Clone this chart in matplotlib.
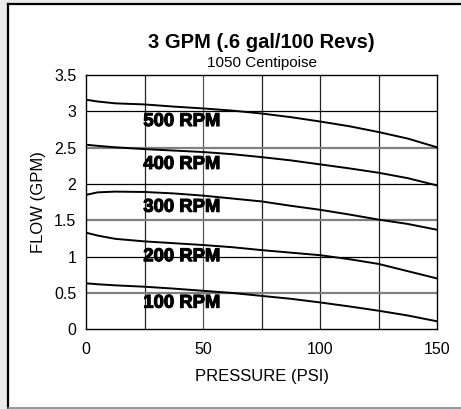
import matplotlib
matplotlib.use("Agg")
import matplotlib.pyplot as plt
import matplotlib.patheffects as pe
from matplotlib.lines import Line2D
from matplotlib.patches import Rectangle

plt.rcParams['font.family'] = ['Liberation Sans', 'DejaVu Sans']

# readings (flow in GPM vs pressure in PSI)
pressure = [0, 5, 12.5, 25, 37.5, 50, 62.5, 75, 87.5, 100, 112.5, 125, 137.5, 150]
rpm_500 = [3.16, 3.135, 3.11, 3.095, 3.065, 3.04, 3.01, 2.97, 2.92, 2.86, 2.795, 2.715, 2.625, 2.505]
rpm_400 = [2.54, 2.525, 2.505, 2.48, 2.46, 2.44, 2.41, 2.37, 2.325, 2.27, 2.215, 2.155, 2.08, 1.98]
rpm_300 = [1.85, 1.885, 1.895, 1.89, 1.87, 1.84, 1.80, 1.76, 1.70, 1.645, 1.58, 1.51, 1.45, 1.37]
rpm_200 = [1.33, 1.29, 1.245, 1.21, 1.185, 1.16, 1.13, 1.09, 1.055, 1.02, 0.965, 0.90, 0.80, 0.70]
rpm_100 = [0.633, 0.62, 0.605, 0.586, 0.56, 0.53, 0.50, 0.46, 0.42, 0.37, 0.315, 0.256, 0.19, 0.11]

series = [rpm_500, rpm_400, rpm_300, rpm_200, rpm_100]
labels = ["500 RPM", "400 RPM", "300 RPM", "200 RPM", "100 RPM"]
label_y = [2.86, 2.27, 1.68, 1.00, 0.36]
label_x = 24.5

x_ticks = [0, 50, 100, 150]
y_ticks = [0, 0.5, 1, 1.5, 2, 2.5, 3, 3.5]
y_tick_labels = ["0", "0.5", "1", "1.5", "2", "2.5", "3", "3.5"]

W, H = 461, 409
fig = plt.figure(figsize=(W / 100, H / 100), dpi=100)
fig.patch.set_facecolor("#ececec")

# white card with black top/left edge
fig.add_artist(Rectangle((8 / W, 1 / H), 1, 404 / H, transform=fig.transFigure,
                         facecolor="white", edgecolor="none", zorder=-5))
fig.add_artist(Line2D([8 / W, 8 / W], [1 / H, 405 / H], transform=fig.transFigure,
                      color="black", lw=1.6, zorder=-4))
fig.add_artist(Line2D([8 / W, 1], [405 / H, 405 / H], transform=fig.transFigure,
                      color="black", lw=1.6, zorder=-4))
fig.add_artist(Line2D([8 / W, 1], [0.8 / H, 0.8 / H], transform=fig.transFigure,
                      color="#888888", lw=1.2, zorder=-4))

ax = fig.add_axes([86 / W, 1 - 329.3 / H, 351 / W, 254.3 / H])
ax.set_facecolor("white")
ax.set_xlim(0, 150)
ax.set_ylim(0, 3.5)

# grid
for gx in [25, 50, 75, 100, 125]:
    ax.axvline(gx, color="#555555" if gx == 50 else "#222222", lw=0.9, zorder=1)
for gy in [0.5, 1, 1.5, 2, 2.5, 3]:
    if gy in (1, 2, 3):
        ax.axhline(gy, color="black", lw=0.9, zorder=1)
    else:
        ax.axhline(gy, color="#808080", lw=1.6, zorder=1)

for s in ax.spines.values():
    s.set_color("black")
    s.set_linewidth(1.0)

for vals in series:
    ax.plot(pressure, vals, color="black", lw=1.4, zorder=3, solid_joinstyle="round")

for lab, ly in zip(labels, label_y):
    ax.text(label_x, ly, lab, fontsize=13.3, fontweight="bold", ha="left", va="center",
            zorder=4, path_effects=[pe.withStroke(linewidth=0.8, foreground="black")])

ax.set_xticks(x_ticks)
ax.set_xticklabels([str(t) for t in x_ticks])
ax.set_yticks(y_ticks)
ax.set_yticklabels(y_tick_labels)
ax.tick_params(axis="both", length=0, labelsize=11.5)
ax.tick_params(axis="y", pad=7)
ax.tick_params(axis="x", pad=9)

fig.text(38 / W, 1 - 202 / H, "FLOW (GPM)", rotation=90, ha="center", va="center", fontsize=12)
fig.text(261.5 / W, 1 - 377 / H, "PRESSURE (PSI)", ha="center", va="center", fontsize=12)
fig.text(261.5 / W, 1 - 43 / H, "3 GPM (.6 gal/100 Revs)", ha="center", va="center",
         fontsize=14.5, fontweight="bold")
fig.text(261.5 / W, 1 - 63 / H, "1050 Centipoise", ha="center", va="center", fontsize=11)

fig.savefig("out.png", dpi=100)
